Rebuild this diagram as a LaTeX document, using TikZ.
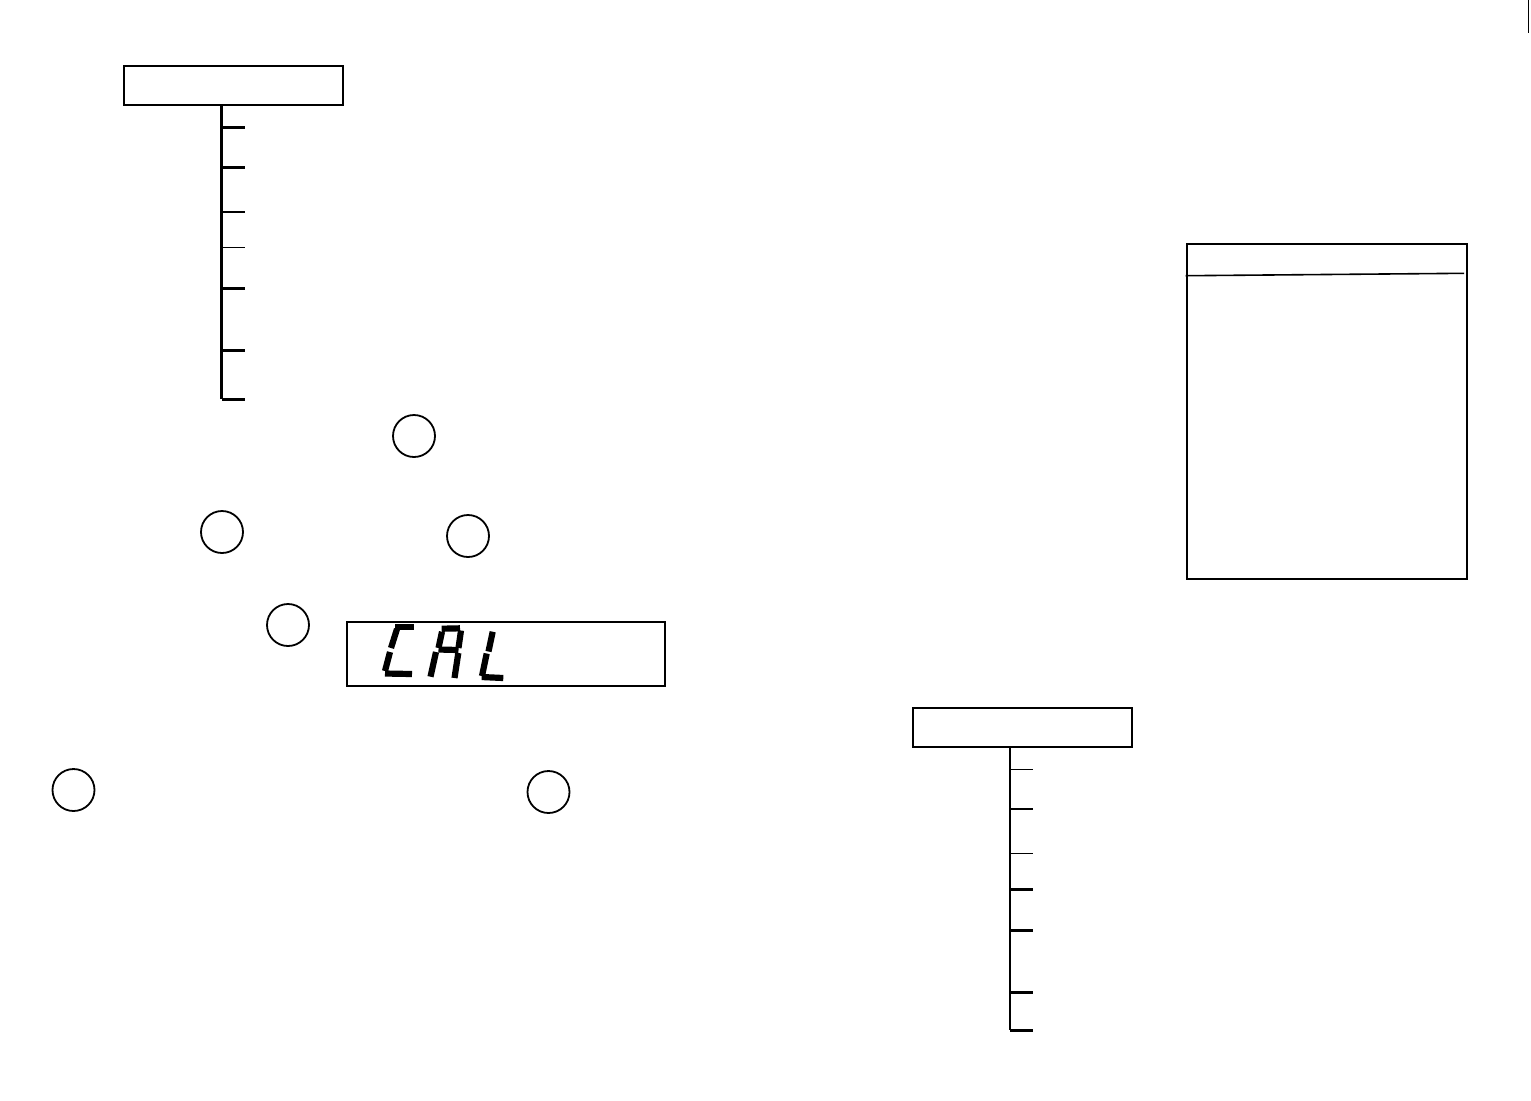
\documentclass[tikz,border=0pt]{standalone}
\usetikzlibrary{positioning}
\tikzset{
  menubox/.style={draw, line width=1pt, minimum width=109.5pt, minimum height=19.5pt, inner sep=0pt},
  knob/.style={draw, circle, line width=0.9pt, minimum size=21pt, inner sep=0pt},
  seg/.style={line width=3.1pt, line cap=butt},
}
\begin{document}
\begin{tikzpicture}[x=0.5pt, y=-0.5pt]
\useasboundingbox (0,0) rectangle (1531,1100);
% top menu tree
\node[menubox] (menuA) at (233.5,85.5) {};
\coordinate (trunkA) at (221.5,105);
\draw[line width=1.5pt] (trunkA) -- (221.5,399);
\foreach \y in {127.7,167.7,288.7,350.7,399}
\draw[shift={(221.5,\y)},line width=1.5pt] (0,0) -- (23,0);
\foreach \y in {211.7,247.3}
\draw[shift={(221.5,\y)},line width=0.8pt] (-1,0) -- (23,0);
% bottom menu tree
\node[menubox] (menuB) at (1022,727.5) {};
\coordinate (trunkB) at (1010,747);
\draw[line width=1.2pt] (trunkB) -- (1010,1030);
\foreach \y in {769.3,809,853.3}
\draw[shift={(1010,\y)},line width=0.8pt] (-1,0) -- (23,0);
\foreach \y in {889,930.7,992.7,1030}
\draw[shift={(1010,\y)},line width=1.5pt] (0,0) -- (23,0);
% knobs
\node[knob] (kTop) at (414,436) {};
\node[knob] (kLeft) at (222,532) {};
\node[knob] (kRight) at (468,536) {};
\node[knob] (kCal) at (288,625) {};
\node[knob] (kLow) at (73.5,790) {};
\node[knob] (kLowR) at (548.5,792) {};
% display
\node[draw, line width=1pt, minimum width=159pt, minimum height=32pt, inner sep=0pt] (display) at (506,654) {};
% C
\draw[seg] (395,627) -- (414,627);
\draw[seg] (397,629) -- (391,648);
\draw[seg] (390,652) -- (385,671);
\draw[seg] (385,673.5) -- (412,674);
% A
\draw[seg] (441.7,628.7) -- (460,628.3);
\draw[seg] (442,631.7) -- (438.5,648);
\draw[seg] (461,630.5) -- (458.5,648);
\draw[seg] (438.5,649.5) -- (458.5,650);
\draw[seg] (436,652) -- (430.5,676.7);
\draw[seg] (458.3,653) -- (454.5,678);
% L
\draw[seg] (492.7,631.7) -- (488.5,651.5);
\draw[seg] (486.7,653.5) -- (482,676);
\draw[seg] (481.7,677) -- (503.3,678);
% right panel
\node[draw, line width=1pt, minimum width=140pt, minimum height=167.5pt, inner sep=0pt] (panel) at (1326.7,411.5) {};
\draw[line width=0.8pt] (panel.west |- 0,275.7) -- (1464,273.3);
% edge mark
\draw[line width=0.8pt] (1528.5,0) -- (1528.5,33);
\end{tikzpicture}
\end{document}
